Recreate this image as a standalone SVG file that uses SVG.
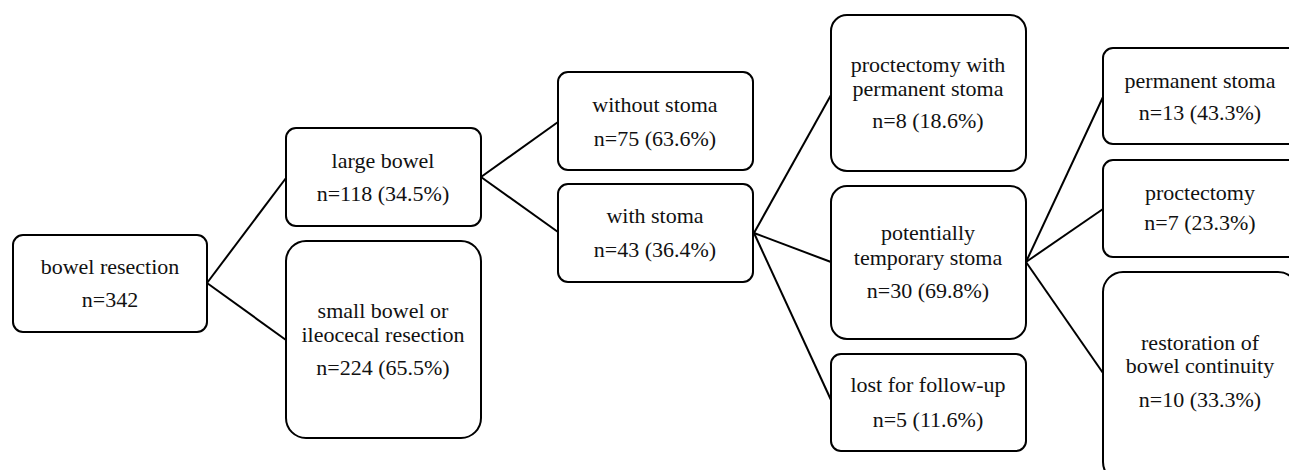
<svg xmlns="http://www.w3.org/2000/svg" width="1289" height="470" viewBox="0 0 1289 470">
<style>
.box{fill:#fff;stroke:#000;stroke-width:2}
.c line{stroke:#000;stroke-width:2}
</style>
<rect width="1289" height="470" fill="#fff"/>
<g class="c" id="connectors">
<line x1="207" y1="283" x2="286" y2="178"/>
<line x1="207" y1="283" x2="286" y2="340"/>
<line x1="481" y1="177" x2="558" y2="122"/>
<line x1="481" y1="177" x2="558" y2="232"/>
<line x1="754" y1="233" x2="831" y2="95"/>
<line x1="754" y1="233" x2="831" y2="262"/>
<line x1="754" y1="233" x2="831" y2="400"/>
<line x1="1026" y1="262" x2="1103" y2="97"/>
<line x1="1026" y1="262" x2="1103" y2="209"/>
<line x1="1026" y1="262" x2="1103" y2="373"/>
</g>
<g font-family="Liberation Serif, DejaVu Serif, serif" font-size="22" fill="#111" text-anchor="middle">
<g id="n1"><rect class="box" x="13" y="235" width="194" height="97" rx="10"/>
<text x="110" y="274">bowel resection</text><text x="110" y="307">n=342</text></g>
<g id="n2"><rect class="box" x="286" y="128" width="195" height="98" rx="10"/>
<text x="383" y="168">large bowel</text><text x="383" y="201">n=118 (34.5%)</text></g>
<g id="n3"><rect class="box" x="286" y="241" width="195" height="197" rx="20"/>
<text x="383" y="318">small bowel or</text><text x="383" y="342">ileocecal resection</text><text x="383" y="375">n=224 (65.5%)</text></g>
<g id="n4"><rect class="box" x="558" y="72" width="195" height="98" rx="10"/>
<text x="655" y="112">without stoma</text><text x="655" y="146">n=75 (63.6%)</text></g>
<g id="n5"><rect class="box" x="558" y="184" width="195" height="98" rx="10"/>
<text x="655" y="223">with stoma</text><text x="655" y="257">n=43 (36.4%)</text></g>
<g id="n6"><rect class="box" x="831" y="15" width="195" height="156" rx="16"/>
<text x="928" y="72">proctectomy with</text><text x="928" y="96">permanent stoma</text><text x="928" y="128">n=8 (18.6%)</text></g>
<g id="n7"><rect class="box" x="831" y="186" width="195" height="153" rx="16"/>
<text x="928" y="240">potentially</text><text x="928" y="265">temporary stoma</text><text x="928" y="298">n=30 (69.8%)</text></g>
<g id="n8"><rect class="box" x="831" y="354" width="195" height="97" rx="10"/>
<text x="928" y="392">lost for follow-up</text><text x="928" y="427">n=5 (11.6%)</text></g>
<g id="n9"><rect class="box" x="1103" y="48" width="195" height="96" rx="10"/>
<text x="1200" y="88">permanent stoma</text><text x="1200" y="120">n=13 (43.3%)</text></g>
<g id="n10"><rect class="box" x="1103" y="160" width="195" height="97" rx="10"/>
<text x="1200" y="200">proctectomy</text><text x="1200" y="230">n=7 (23.3%)</text></g>
<g id="n11"><rect class="box" x="1103" y="272" width="195" height="210" rx="20"/>
<text x="1200" y="350">restoration of</text><text x="1200" y="373">bowel continuity</text><text x="1200" y="407">n=10 (33.3%)</text></g>
</g>
</svg>
